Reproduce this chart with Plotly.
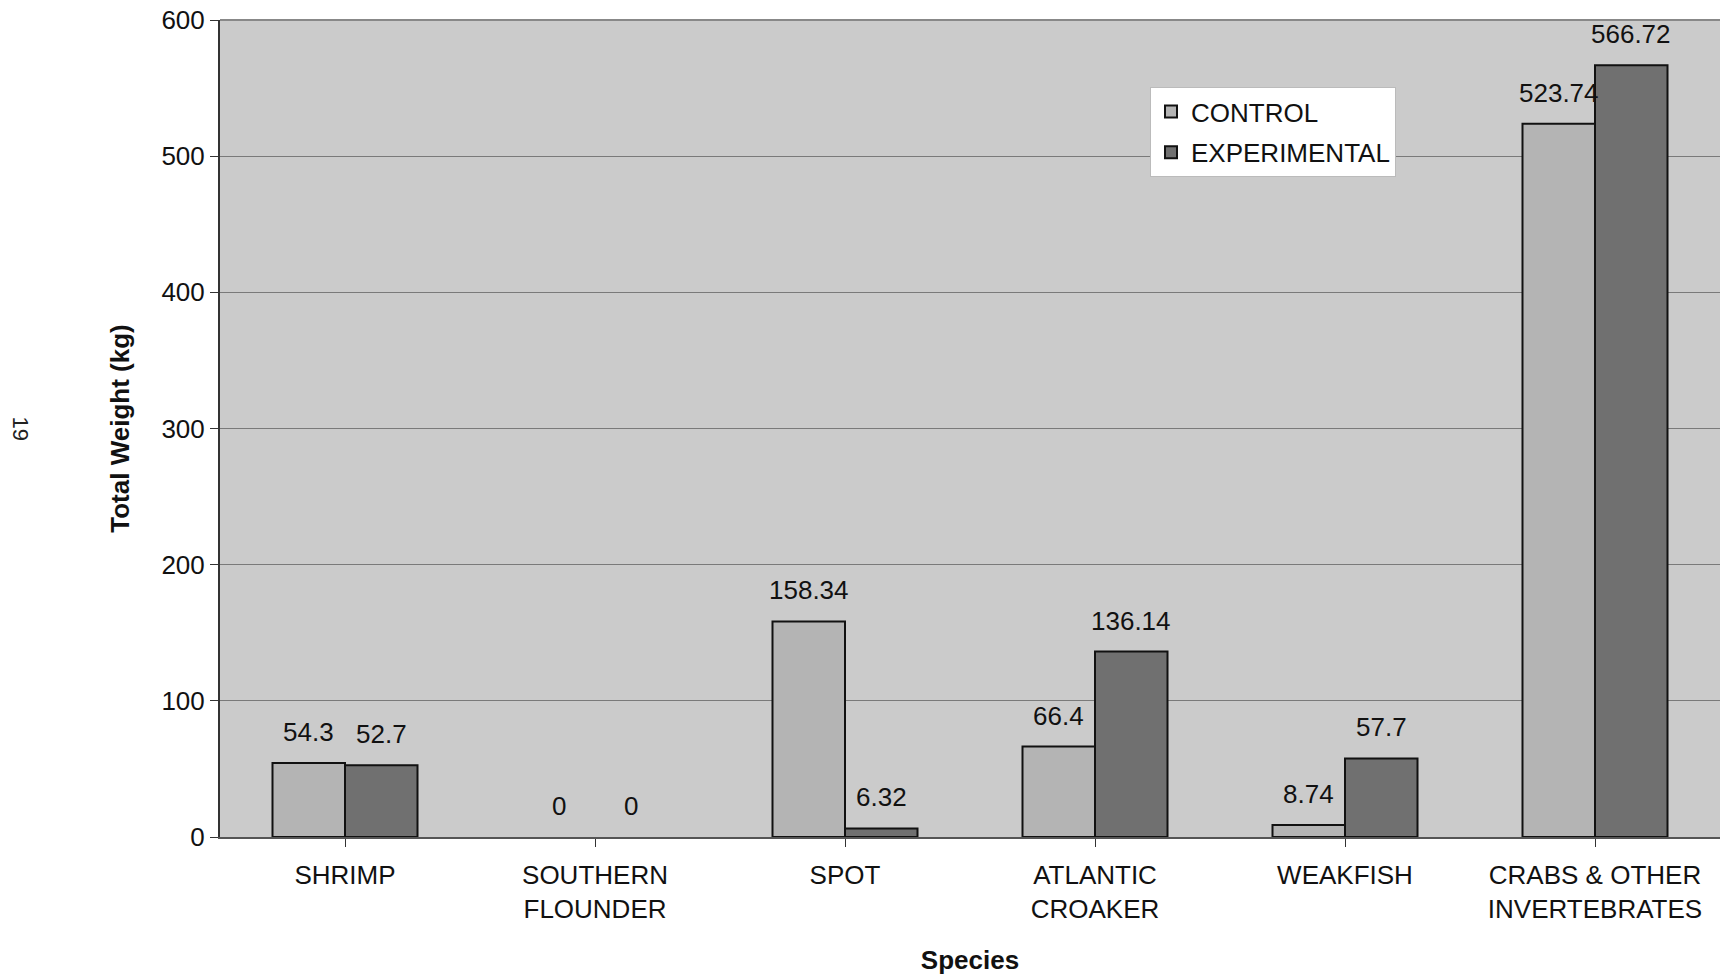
import plotly.graph_objects as go

# Catch weight by species for the two gear types
species = ["SHRIMP", "SOUTHERN<br>FLOUNDER", "SPOT", "ATLANTIC<br>CROAKER",
           "WEAKFISH", "CRABS & OTHER<br>INVERTEBRATES"]
control = [54.3, 0, 158.34, 66.4, 8.74, 523.74]
experimental = [52.7, 0, 6.32, 136.14, 57.7, 566.72]
y_ticks = [0, 100, 200, 300, 400, 500, 600]

FONT = "Arial, Liberation Sans, sans-serif"
FS = 26
BAR_W = 0.29
idx = list(range(len(species)))


def outline(values):
    # no outline on empty bars so nothing shows along the axis
    return [2 if v > 0 else 0 for v in values]


fig = go.Figure()
fig.add_trace(go.Bar(
    name="CONTROL", x=idx, y=control, width=BAR_W, offset=-BAR_W,
    marker=dict(color="#b4b4b4", line=dict(color="#111111", width=outline(control))),
    legendgroup="c",
))
fig.add_trace(go.Bar(
    name="EXPERIMENTAL", x=idx, y=experimental, width=BAR_W, offset=0,
    marker=dict(color="#707070", line=dict(color="#111111", width=outline(experimental))),
    legendgroup="e",
))

# value labels above each bar
annotations = []
for i, (c, e) in enumerate(zip(control, experimental)):
    for xpos, v in ((i - BAR_W / 2, c), (i + BAR_W / 2, e)):
        annotations.append(dict(
            x=xpos, y=v, xref="x", yref="y", text=f"{v:g}", showarrow=False,
            yanchor="middle", yshift=31, font=dict(family=FONT, size=FS, color="#111111"),
        ))

# page number printed sideways in the margin
annotations.append(dict(
    x=-200 / 1500, y=0.5, xref="x domain", yref="paper", xanchor="center", yanchor="middle",
    text="19", textangle=90, showarrow=False,
    font=dict(family=FONT, size=22, color="#222222"),
))

fig.update_layout(
    width=1722, height=979,
    margin=dict(l=220, r=2, t=20, b=142),
    paper_bgcolor="white",
    plot_bgcolor="#cbcbcb",
    font=dict(family=FONT, size=FS, color="#111111"),
    barmode="overlay",
    showlegend=True,
    legend=dict(
        x=0.62, y=0.918, xanchor="left", yanchor="top",
        bgcolor="white", bordercolor="#bbbbbb", borderwidth=1,
        font=dict(family=FONT, size=FS, color="#111111"),
        tracegroupgap=4, itemwidth=30,
    ),
    annotations=annotations,
)

fig.update_xaxes(
    tickmode="array", tickvals=idx, ticktext=species,
    range=[-0.5, len(species) - 0.5],
    showgrid=False, ticks="outside", ticklen=8, tickcolor="#333333",
    showline=True, linecolor="#555555", linewidth=2,
    tickfont=dict(family=FONT, size=FS, color="#111111"),
    ticklabelstandoff=6,
    title=dict(text="<b>Species</b>", font=dict(family=FONT, size=FS, color="#111111"),
               standoff=28),
    zeroline=False,
)
fig.update_xaxes(tickson="boundaries")

fig.update_yaxes(
    range=[0, 600], tickvals=y_ticks,
    showgrid=True, gridcolor="#7a7a7a", gridwidth=1,
    ticks="outside", ticklen=8, tickcolor="#333333",
    showline=True, linecolor="#333333", linewidth=2, mirror=False,
    tickfont=dict(family=FONT, size=FS, color="#111111"),
    title=dict(text="<b>Total Weight (kg)</b>", font=dict(family=FONT, size=FS, color="#111111"),
               standoff=24),
    zeroline=False,
)

# thin frame along the top edge of the plotting area
fig.add_shape(type="line", xref="x domain", yref="y domain", x0=0, x1=1, y0=1, y1=1,
              line=dict(color="#888888", width=2))

fig.write_html("out.html")
